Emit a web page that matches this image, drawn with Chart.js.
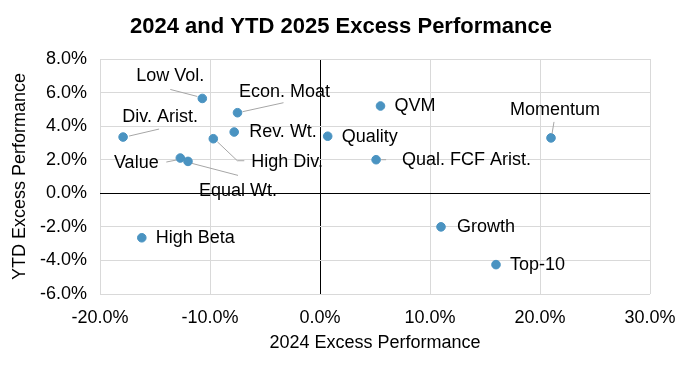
<!DOCTYPE html>
<html>
<head>
<meta charset="utf-8">
<script src="https://cdn.jsdelivr.net/npm/chart.js@4/dist/chart.umd.min.js"></script>
<style>
  html, body { margin: 0; padding: 0; background: #fff; }
  #wrap { width: 683px; height: 372px; }
</style>
</head>
<body>
<div id="wrap"><canvas id="c" width="683" height="372"></canvas></div>
<script>
// ---- Data (percent units) ----
const names = ["Low Vol.", "Econ. Moat", "Div. Arist.", "Rev. Wt.", "High Div.", "Value", "Equal Wt.",
               "Quality", "QVM", "Momentum", "Qual. FCF Arist.", "High Beta", "Growth", "Top-10"];
const excess2024 = [-10.7, -7.5, -17.9, -7.8, -9.7, -12.7, -12.0, 0.7, 5.5, 21.0, 5.1, -16.2, 11.0, 16.0];
const excessYTD2025 = [5.65, 4.8, 3.35, 3.65, 3.25, 2.1, 1.9, 3.4, 5.2, 3.3, 2.0, -2.65, -2.0, -4.25];
const xTicks = [-20, -10, 0, 10, 20, 30];
const yTicks = [-6, -4, -2, 0, 2, 4, 6, 8];

// ---- Label placement (pixel offsets relative to each point) ----
const labelLayout = {
  "Low Vol.":        { dx: -32, dy: -22, align: "center", line: [[-32, -9], [-5, -2]] },
  "Econ. Moat":      { dx: 47,  dy: -21, align: "center", line: [[46, -10], [5, -1]] },
  "Div. Arist.":     { dx: 37,  dy: -20, align: "center", line: [[36, -8], [6, -1]] },
  "Rev. Wt.":        { dx: 15,  dy: 0,   align: "left" },
  "High Div.":       { dx: 38,  dy: 23,  align: "left", line: [[4, 3], [24, 22], [31, 22]] },
  "Value":           { dx: -44, dy: 5,   align: "center", line: [[-14, 4], [-4, 2]] },
  "Equal Wt.":       { dx: 50,  dy: 30,  align: "center", line: [[4, 2], [50, 14]] },
  "Quality":         { dx: 14,  dy: 1,   align: "left" },
  "QVM":             { dx: 14,  dy: 0,   align: "left" },
  "Momentum":        { dx: 4,   dy: -28, align: "center", line: [[3, -16], [1, -4]] },
  "Qual. FCF Arist.":{ dx: 26,  dy: 0,   align: "left", line: [[5, 0], [10, 0]] },
  "High Beta":       { dx: 14,  dy: 0,   align: "left" },
  "Growth":          { dx: 16,  dy: 0,   align: "left" },
  "Top-10":          { dx: 14,  dy: 0,   align: "left" }
};

const FONT = "'Liberation Sans', Arial, sans-serif";
const points = names.map((n, i) => ({ x: excess2024[i], y: excessYTD2025[i], name: n }));

const labelPlugin = {
  id: "pointLabels",
  afterDatasetsDraw(chart) {
    const ctx = chart.ctx;
    const meta = chart.getDatasetMeta(0);
    ctx.save();
    meta.data.forEach((el, i) => {
      const name = names[i];
      const L = labelLayout[name];
      if (!L) return;
      const px = el.x, py = el.y;
      if (L.line) {
        ctx.beginPath();
        ctx.strokeStyle = "#a6a6a6";
        ctx.lineWidth = 1;
        L.line.forEach((p, k) => {
          if (k === 0) ctx.moveTo(px + p[0], py + p[1]);
          else ctx.lineTo(px + p[0], py + p[1]);
        });
        ctx.stroke();
      }
      ctx.fillStyle = "#000";
      ctx.font = "18px " + FONT;
      ctx.textAlign = L.align;
      ctx.textBaseline = "middle";
      ctx.fillText(name, px + L.dx, py + L.dy);
    });
    ctx.restore();
  }
};

const titlePlugin = {
  id: "topTitle",
  afterDraw(chart) {
    const ctx = chart.ctx;
    ctx.save();
    ctx.fillStyle = "#000";
    ctx.font = "bold 22px " + FONT;
    ctx.textAlign = "center";
    ctx.textBaseline = "middle";
    ctx.fillText("2024 and YTD 2025 Excess Performance", 341, 27);
    ctx.restore();
  }
};

const gridColor = (ctx) => (ctx.tick && ctx.tick.value === 0) ? "#000000" : "#d9d9d9";

new Chart(document.getElementById("c"), {
  type: "scatter",
  data: {
    datasets: [{
      data: points,
      backgroundColor: "#4a93c1",
      borderColor: "#4a93c1",
      pointRadius: 4.3,
      pointHoverRadius: 4.3
    }]
  },
  options: {
    responsive: false,
    animation: false,
    events: [],
    layout: { padding: { top: 59, right: 33, bottom: 0, left: 0 } },
    plugins: { legend: { display: false }, tooltip: { enabled: false }, title: { display: false } },
    scales: {
      x: {
        type: "linear",
        min: -20, max: 30,
        afterBuildTicks: (s) => { s.ticks = xTicks.map(v => ({ value: v })); },
        afterFit: (s) => { s.height = 78; s.paddingLeft = 0; s.paddingRight = 0; },
        grid: { color: gridColor, lineWidth: 1, drawTicks: false },
        border: { display: false },
        ticks: {
          padding: 13,
          color: "#000",
          font: { family: FONT, size: 18 },
          callback: (v) => v.toFixed(1) + "%"
        },
        title: {
          display: true,
          text: "2024 Excess Performance",
          color: "#000",
          font: { family: FONT, size: 18 },
          padding: { top: 0, bottom: 18 }
        }
      },
      y: {
        type: "linear",
        min: -6, max: 8,
        afterBuildTicks: (s) => { s.ticks = yTicks.map(v => ({ value: v })); },
        afterFit: (s) => { s.width = 100; s.paddingTop = 0; s.paddingBottom = 0; },
        grid: { color: gridColor, lineWidth: 1, drawTicks: false },
        border: { display: false },
        ticks: {
          padding: 13,
          color: "#000",
          font: { family: FONT, size: 18 },
          callback: (v) => v.toFixed(1) + "%"
        },
        title: {
          display: true,
          text: "YTD Excess Performance",
          color: "#000",
          font: { family: FONT, size: 18 },
          padding: { top: 9, bottom: 0 }
        }
      }
    }
  },
  plugins: [labelPlugin, titlePlugin]
});
</script>
</body>
</html>
